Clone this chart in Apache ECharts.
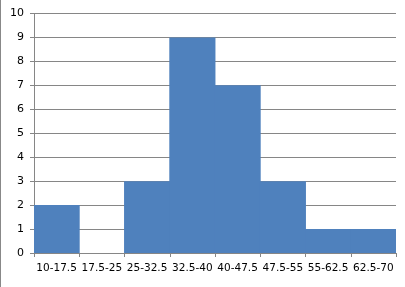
<!DOCTYPE html>
<html><head><meta charset="utf-8">
<script src="https://cdn.jsdelivr.net/npm/echarts@6/dist/echarts.min.js"></script>
<style>html,body{margin:0;padding:0;background:#fff}#c{width:405px;height:287px}</style>
</head><body><div id="c"></div>
<script>
const categories = ['10-17.5','17.5-25','25-32.5','32.5-40','40-47.5','47.5-55','55-62.5','62.5-70'];
const counts = [2, 0, 3, 9, 7, 3, 1, 1];
const yTicks = [0,1,2,3,4,5,6,7,8,9,10];

const chart = echarts.init(document.getElementById('c'), null, {renderer:'canvas'});
const font = 'DejaVu Sans';
chart.setOption({
  animation: false,
  backgroundColor: '#fff',
  grid: {left: 34, right: 9, top: 13.5, bottom: 34, containLabel: false},
  graphic: [{type:'line', shape:{x1:0.5,y1:0,x2:0.5,y2:287}, style:{stroke:'#888', lineWidth:1}}],
  xAxis: {
    type: 'category', data: categories, boundaryGap: true,
    axisLine: {lineStyle:{color:'#868686', width:1}},
    axisTick: {show:true, length:4, lineStyle:{color:'#868686'}, alignWithLabel:false},
    axisLabel: {color:'#000', fontFamily:font, fontSize:10.5, margin:10, interval:0}
  },
  yAxis: {
    type: 'value', min: yTicks[0], max: yTicks[yTicks.length-1], interval: 1,
    axisLine: {show:true, lineStyle:{color:'#868686', width:1}},
    axisTick: {show:true, length:4, lineStyle:{color:'#868686'}},
    axisLabel: {color:'#000', fontFamily:font, fontSize:11, margin:10},
    splitLine: {show:true, lineStyle:{color:'#868686', width:1}}
  },
  series: [{
    type: 'bar', data: counts, barWidth: '102%',
    itemStyle: {color:'#4F81BD'}, z: 3
  }]
});
</script></body></html>
